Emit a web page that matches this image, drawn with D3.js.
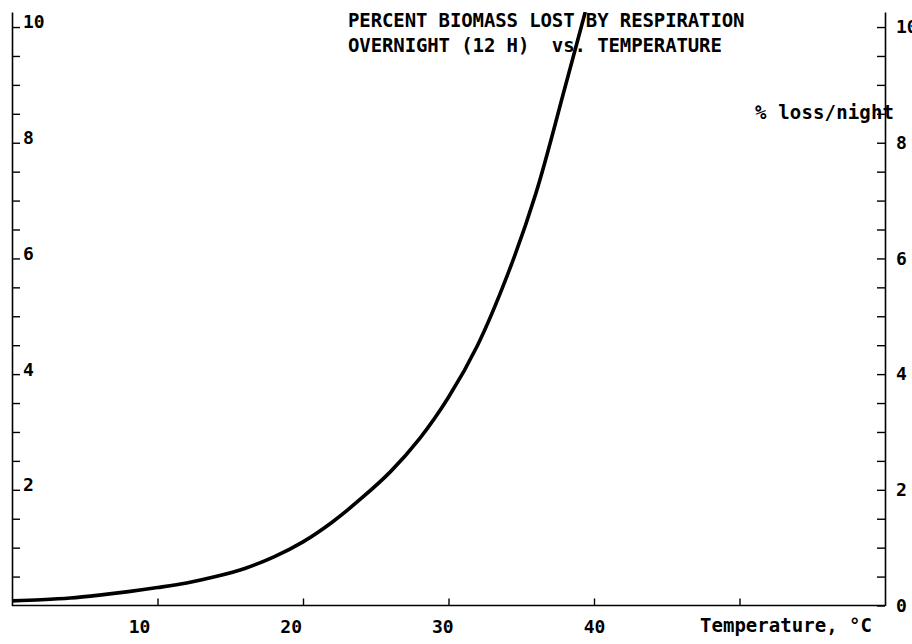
<!DOCTYPE html>
<html>
<head>
<meta charset="utf-8">
<script src="https://cdn.jsdelivr.net/npm/d3@7"></script>
<style>
  body { margin: 0; background: #fff; }
  text { font-family: "DejaVu Sans Mono", monospace; font-weight: bold; fill: #000; white-space: pre; }
</style>
</head>
<body>
<script>
// temperature (deg C) and % biomass lost per night
const temps = [0, 2, 4, 6, 8, 10, 12, 14, 16, 18, 20, 22, 24, 26, 28, 30, 32, 34, 36, 38, 39.4];
const loss = [0.08, 0.10, 0.13, 0.18, 0.24, 0.31, 0.39, 0.50, 0.64, 0.84, 1.10, 1.44, 1.85, 2.31, 2.88, 3.60, 4.50, 5.68, 7.12, 8.95, 10.26];

const xTicks = [10, 20, 30, 40, 50];
const xLabels = [10, 20, 30, 40];
const yLabels = [0, 2, 4, 6, 8, 10];
const titleLines = ["PERCENT BIOMASS LOST BY RESPIRATION", "OVERNIGHT (12 H)  vs. TEMPERATURE"];
const xTitle = "Temperature, \u00b0C";
const yTitle = "% loss/night";

function draw() {
	let width = 912, height = 644;

	let x = d3.scaleLinear().domain([0, 60]).range([12, 885]);
	let y = d3.scaleLinear().domain([0, 10.26]).range([605.5, 12]);
	// the x tick labels sit a little off their ticks in the original
	let xLab = d3.scaleLinear().domain([10, 40]).range([139, 594]);

	let svg = d3.select("body").append("svg")
		.attr("width", width)
		.attr("height", height);

	// title
	svg.selectAll("text.title")
		.data(titleLines)
		.enter().append("text")
		.attr("class", "title")
		.attr("x", 348)
		.attr("y", (d, i) => 27 + i * 25)
		.attr("font-size", 19)
		.attr("textLength", (d) => d.length * 11.33)
		.attr("lengthAdjust", "spacing")
		.text((d) => d);

	let minor = d3.range(0.5, 10.01, 0.5);

	// left axis, ticks pointing inward
	let left = svg.append("g")
		.attr("transform", "translate(" + x(0) + ",0)")
		.call(d3.axisRight(y).tickValues(minor).tickSizeInner(8).tickSizeOuter(0).tickPadding(3)
			.tickFormat((d) => yLabels.includes(d) ? d : ""));

	// right axis, ticks inward, labels outside
	let right = svg.append("g")
		.attr("transform", "translate(" + x(60) + ",0)")
		.call(d3.axisRight(y).tickValues([0].concat(minor)).tickSizeInner(-8).tickSizeOuter(0).tickPadding(11)
			.tickFormat((d) => yLabels.includes(d) ? d : ""));

	// bottom axis, ticks upward
	let bottom = svg.append("g")
		.attr("transform", "translate(0," + y(0) + ")")
		.call(d3.axisBottom(x).tickValues(xTicks).tickSizeInner(-7).tickSizeOuter(0).tickPadding(15)
			.tickFormat((d) => xLabels.includes(d) ? d : ""));

	[left, right, bottom].forEach((g) => {
		g.select(".domain").attr("stroke", "#000").attr("stroke-width", 1.6);
		g.selectAll(".tick line").attr("stroke", "#000").attr("stroke-width", 1.4);
		g.selectAll(".tick text").attr("font-size", 18)
			.attr("font-family", "DejaVu Sans Mono").attr("font-weight", "bold");
	});
	left.selectAll(".tick text").attr("dy", "0.05em");
	right.selectAll(".tick text").attr("dy", "0.32em");
	bottom.selectAll(".tick text").attr("x", (d) => xLabels.includes(d) ? xLab(d) - x(d) : 0);
	bottom.select(".domain").attr("d", "M" + x(0) + ",0H" + x(60));

	// axis titles
	svg.append("text")
		.attr("x", 700)
		.attr("y", 632)
		.attr("font-size", 19)
		.attr("textLength", 172)
		.attr("lengthAdjust", "spacing")
		.text(xTitle);

	svg.append("text")
		.attr("x", 755)
		.attr("y", 119)
		.attr("font-size", 19)
		.attr("textLength", 139)
		.attr("lengthAdjust", "spacing")
		.text(yTitle);

	// curve, clipped at the top of the axes
	svg.append("clipPath").attr("id", "plot")
		.append("rect")
		.attr("x", x(0)).attr("y", y(10.26))
		.attr("width", x(60) - x(0)).attr("height", y(0) - y(10.26));

	let pts = temps.map((t, i) => ({ t: t, v: loss[i] }));
	let line = d3.line()
		.x((d) => x(d.t))
		.y((d) => y(d.v))
		.curve(d3.curveCatmullRom.alpha(0.5));

	svg.append("path")
		.datum(pts)
		.attr("clip-path", "url(#plot)")
		.attr("fill", "none")
		.attr("stroke", "#000")
		.attr("stroke-width", 3.6)
		.attr("d", line);
}

window.addEventListener("load", draw);
</script>
</body>
</html>
